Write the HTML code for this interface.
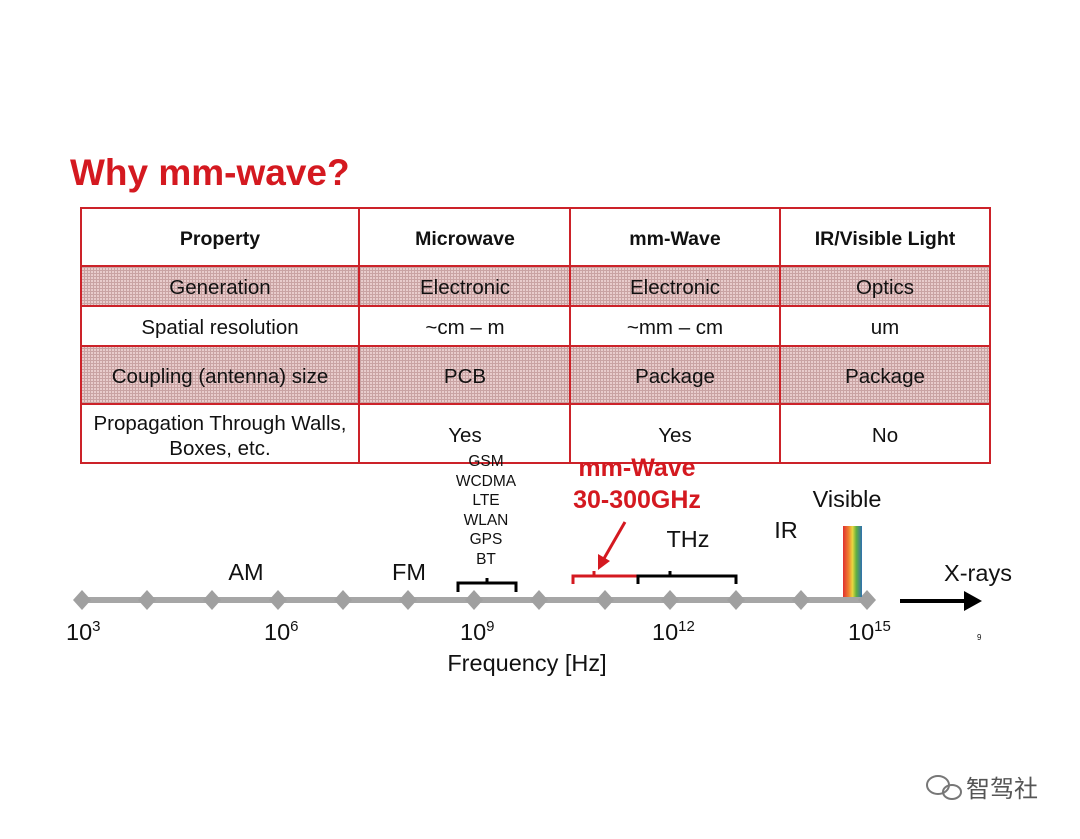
<!DOCTYPE html>
<html><head><meta charset="utf-8"><style>
body{margin:0;background:#fff;}
svg text{font-family:"Liberation Sans","Noto Sans CJK SC",sans-serif;}
</style></head><body>
<svg width="1080" height="834" xmlns="http://www.w3.org/2000/svg">
<defs>
<pattern id="dots" width="3" height="3" patternUnits="userSpaceOnUse">
<rect width="3" height="3" fill="#e8cccc"/>
<rect width="1" height="3" fill="#c9a3a3"/><rect width="3" height="1" fill="#c9a3a3"/>
</pattern>
<linearGradient id="rb" x1="0" x2="1">
<stop offset="0" stop-color="#e03030"/><stop offset="0.3" stop-color="#f08030"/><stop offset="0.5" stop-color="#e8d840"/><stop offset="0.7" stop-color="#60b040"/><stop offset="1" stop-color="#3070b0"/>
</linearGradient>
</defs>
<text x="70" y="185" font-size="37" font-weight="bold" fill="#d41920">Why mm-wave?</text>
<rect x="81" y="266" width="909" height="40" fill="url(#dots)"/>
<rect x="81" y="346" width="909" height="58" fill="url(#dots)"/>
<g stroke="#cc2229" stroke-width="2" fill="none">
<rect x="81" y="208" width="909" height="255"/>
<line x1="81" y1="266" x2="990" y2="266"/><line x1="81" y1="306" x2="990" y2="306"/>
<line x1="81" y1="346" x2="990" y2="346"/><line x1="81" y1="404" x2="990" y2="404"/>
<line x1="359" y1="208" x2="359" y2="463"/><line x1="570" y1="208" x2="570" y2="463"/><line x1="780" y1="208" x2="780" y2="463"/>
</g>
<g font-size="20.5" text-anchor="middle" fill="#111">
<g font-weight="bold" font-size="19.5"><text x="220" y="245">Property</text><text x="465" y="245">Microwave</text><text x="675" y="245">mm-Wave</text><text x="885" y="245">IR/Visible Light</text></g>
<text x="220" y="294">Generation</text><text x="465" y="294">Electronic</text><text x="675" y="294">Electronic</text><text x="885" y="294">Optics</text>
<text x="220" y="334">Spatial resolution</text><text x="465" y="334">~cm – m</text><text x="675" y="334">~mm – cm</text><text x="885" y="334">um</text>
<text x="220" y="383">Coupling (antenna) size</text><text x="465" y="383">PCB</text><text x="675" y="383">Package</text><text x="885" y="383">Package</text>
<text x="220" y="430">Propagation Through Walls,</text><text x="220" y="455">Boxes, etc.</text>
<text x="465" y="442">Yes</text><text x="675" y="442">Yes</text><text x="885" y="442">No</text>
</g>
<g font-size="15.5" text-anchor="middle" fill="#111">
<text x="486" y="466">GSM</text><text x="486" y="486">WCDMA</text><text x="486" y="505">LTE</text><text x="486" y="525">WLAN</text><text x="486" y="544">GPS</text><text x="486" y="564">BT</text>
</g>
<g font-size="25" font-weight="bold" fill="#d41920" text-anchor="middle"><text x="637" y="476">mm-Wave</text><text x="637" y="508">30-300GHz</text></g>
<line x1="82" y1="600" x2="867" y2="600" stroke="#a6a6a6" stroke-width="6"/>
<g fill="#a0a0a0">
<path d="M82 590l9 10-9 10-9-10z"/><path d="M147 590l9 10-9 10-9-10z"/><path d="M212 590l9 10-9 10-9-10z"/><path d="M278 590l9 10-9 10-9-10z"/><path d="M343 590l9 10-9 10-9-10z"/><path d="M408 590l9 10-9 10-9-10z"/><path d="M474 590l9 10-9 10-9-10z"/><path d="M539 590l9 10-9 10-9-10z"/><path d="M605 590l9 10-9 10-9-10z"/><path d="M670 590l9 10-9 10-9-10z"/><path d="M736 590l9 10-9 10-9-10z"/><path d="M801 590l9 10-9 10-9-10z"/><path d="M867 590l9 10-9 10-9-10z"/>
</g>
<rect x="843" y="526" width="19" height="71" fill="url(#rb)"/>
<path d="M458 592v-9h58v9M487 583v-5" stroke="#000" stroke-width="3" fill="none"/>
<path d="M573 584v-8h65M594 576v-5" stroke="#d41920" stroke-width="3" fill="none"/>
<path d="M638 584v-8h98v8M670 576v-5" stroke="#000" stroke-width="3" fill="none"/>
<line x1="625" y1="522" x2="602" y2="562" stroke="#d41920" stroke-width="3"/>
<path d="M598 570l0-16 12 7z" fill="#d41920"/>
<line x1="900" y1="601" x2="968" y2="601" stroke="#000" stroke-width="4"/>
<path d="M982 601l-18-10v20z" fill="#000"/>
<g font-size="23.5" fill="#111" text-anchor="middle">
<text x="246" y="580">AM</text><text x="409" y="580">FM</text><text x="688" y="547">THz</text><text x="786" y="538">IR</text><text x="847" y="507">Visible</text><text x="978" y="581">X-rays</text>
<text x="527" y="671">Frequency [Hz]</text>
</g>
<g font-size="23.5" fill="#111">
<text x="66" y="640">10<tspan font-size="15" dy="-9">3</tspan></text>
<text x="264" y="640">10<tspan font-size="15" dy="-9">6</tspan></text>
<text x="460" y="640">10<tspan font-size="15" dy="-9">9</tspan></text>
<text x="652" y="640">10<tspan font-size="15" dy="-9">12</tspan></text>
<text x="848" y="640">10<tspan font-size="15" dy="-9">15</tspan></text>
</g>
<text x="977" y="640" font-size="8" fill="#111">9</text>
<g fill="none" stroke="#777" stroke-width="2"><ellipse cx="938" cy="785" rx="11" ry="9"/><ellipse cx="952" cy="792" rx="9" ry="7"/></g>
<text x="966" y="797" font-size="24" fill="#555">智驾社</text>
</svg>
</body></html>
